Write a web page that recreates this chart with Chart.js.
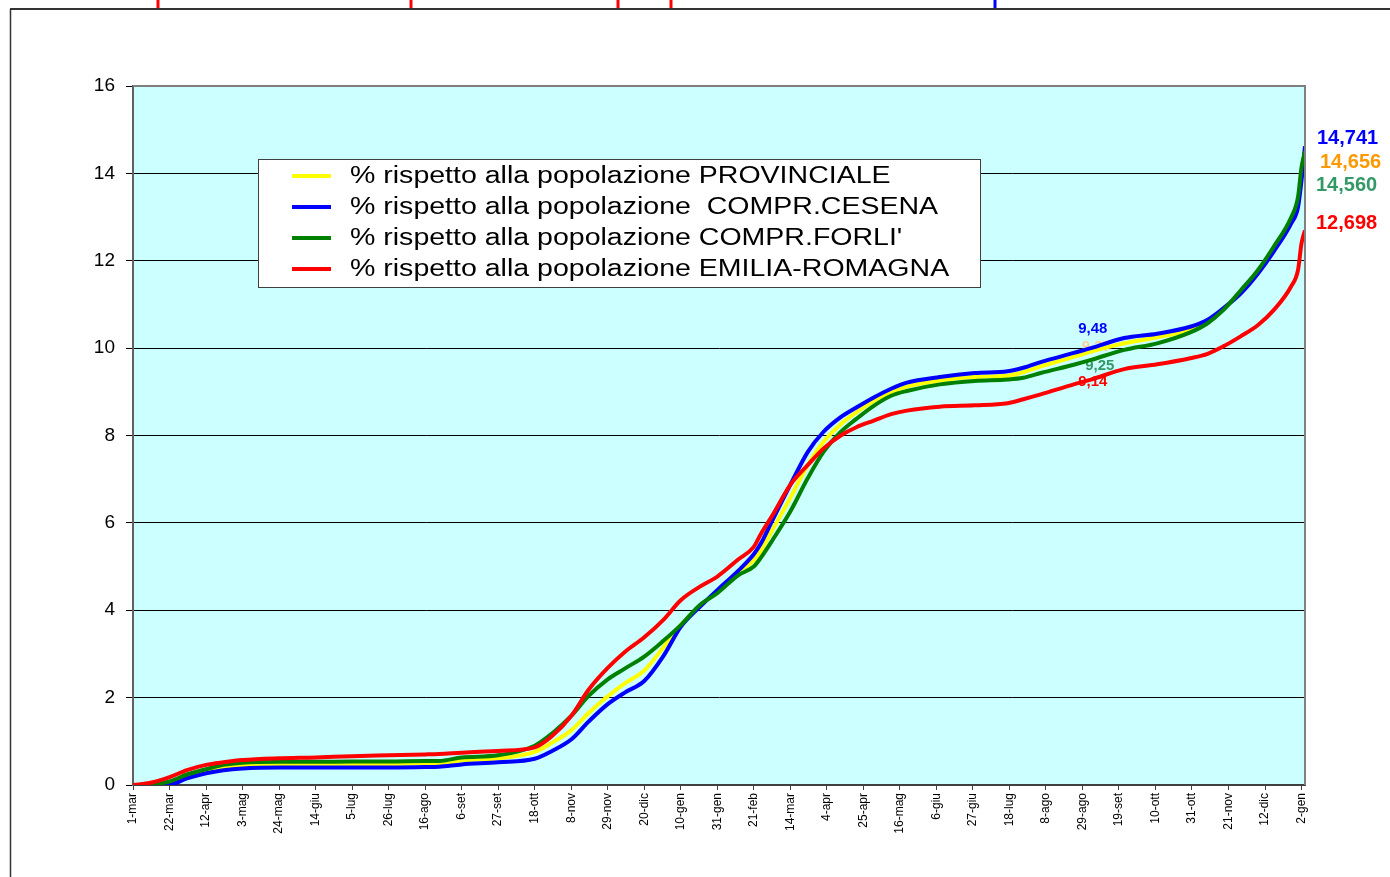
<!DOCTYPE html>
<html>
<head>
<meta charset="utf-8">
<script src="https://cdn.jsdelivr.net/npm/chart.js@4.4.1/dist/chart.umd.min.js"></script>
<style>
  html, body { margin: 0; padding: 0; background: #fff; overflow: hidden; }
  canvas { display: block; }
</style>
</head>
<body>
<canvas id="chart" width="1390" height="877"></canvas>
<script>
const tickLabels = ["1-mar", "22-mar", "12-apr", "3-mag", "24-mag", "14-giu", "5-lug", "26-lug",
  "16-ago", "6-set", "27-set", "18-ott", "8-nov", "29-nov", "20-dic", "10-gen", "31-gen", "21-feb",
  "14-mar", "4-apr", "25-apr", "16-mag", "6-giu", "27-giu", "18-lug", "8-ago", "29-ago", "19-set",
  "10-ott", "31-ott", "21-nov", "12-dic", "2-gen"];

// days since 1-mar
const days = [0, 10, 21, 31, 42, 52, 63, 84, 105, 126, 147, 168, 176, 189, 210, 231, 241, 252, 262,
  273, 283, 294, 305, 315, 326, 336, 348, 357, 361, 368, 378, 388, 397, 407, 416, 426, 436, 445, 464,
  484, 503, 512, 522, 541, 551, 570, 589, 608, 618, 627, 637, 647, 656, 666, 670, 672, 674];

const provinciale = [0, 0, 0.05, 0.19, 0.30, 0.40, 0.44, 0.47, 0.47, 0.48, 0.48, 0.49, 0.49, 0.56,
  0.61, 0.76, 0.97, 1.25, 1.65, 2.03, 2.33, 2.62, 3.15, 3.66, 4.10, 4.42, 4.86, 5.15, 5.36, 5.86,
  6.57, 7.32, 7.85, 8.26, 8.53, 8.79, 8.98, 9.12, 9.26, 9.34, 9.37, 9.45, 9.58, 9.80, 9.92, 10.11,
  10.25, 10.42, 10.61, 10.89, 11.28, 11.75, 12.27, 12.92, 13.35, 14.00, 14.56];

const cesena = [0, 0, 0.01, 0.15, 0.27, 0.34, 0.38, 0.40, 0.40, 0.40, 0.40, 0.41, 0.42, 0.47, 0.52,
  0.60, 0.78, 1.04, 1.45, 1.85, 2.12, 2.38, 2.95, 3.62, 4.08, 4.46, 4.90, 5.28, 5.52, 6.08, 6.87,
  7.62, 8.08, 8.42, 8.64, 8.87, 9.07, 9.21, 9.34, 9.43, 9.47, 9.55, 9.68, 9.89, 10.00, 10.23, 10.33,
  10.49, 10.65, 10.91, 11.25, 11.71, 12.21, 12.85, 13.23, 13.84, 14.62];

const forli = [0, 0.01, 0.08, 0.24, 0.36, 0.46, 0.51, 0.53, 0.53, 0.54, 0.54, 0.55, 0.55, 0.63, 0.68,
  0.90, 1.18, 1.58, 2.04, 2.42, 2.67, 2.94, 3.30, 3.66, 4.12, 4.39, 4.80, 5.00, 5.20, 5.62, 6.26,
  7.02, 7.62, 8.08, 8.38, 8.68, 8.91, 9.02, 9.17, 9.25, 9.28, 9.32, 9.43, 9.62, 9.73, 9.96, 10.11,
  10.36, 10.57, 10.87, 11.32, 11.79, 12.32, 12.99, 13.46, 14.14, 14.50];

const emilia = [0, 0.05, 0.18, 0.34, 0.46, 0.52, 0.57, 0.61, 0.63, 0.66, 0.68, 0.70, 0.71, 0.74, 0.78,
  0.86, 1.12, 1.58, 2.18, 2.68, 3.05, 3.38, 3.78, 4.23, 4.54, 4.77, 5.16, 5.45, 5.74, 6.19, 6.87,
  7.32, 7.70, 8.00, 8.19, 8.34, 8.49, 8.57, 8.66, 8.69, 8.74, 8.83, 8.94, 9.17, 9.28, 9.52, 9.63,
  9.77, 9.87, 10.04, 10.27, 10.53, 10.87, 11.41, 11.79, 12.40, 12.70];

const endLabels = ["14,741", "14,656", "14,560", "12,698"];
const midLabels = ["9,48", "9,37", "9,25", "9,14"];

const FONT = "Arial, 'Liberation Sans', sans-serif";

function series(label, values, color, order) {
  return {
    label: label,
    data: values.map((v, i) => ({ x: days[i], y: v })),
    borderColor: color,
    backgroundColor: color,
    borderWidth: 4,
    pointRadius: 0,
    cubicInterpolationMode: "monotone",
    order: order
  };
}

// annotation placement (value coordinates + colour)
const endLabelStyle = [
  { color: "#0000FF", v: 14.79, dx: 12 },
  { color: "#FF9900", v: 14.26, dx: 15 },
  { color: "#339966", v: 13.73, dx: 11 },
  { color: "#FF0000", v: 12.86, dx: 11 }
];
const midLabelStyle = [
  { color: "#0000FF", day: 552, v: 10.44 },
  { color: "#FFCC99", day: 554, v: 10.03 },
  { color: "#339966", day: 556, v: 9.59 },
  { color: "#FF0000", day: 552, v: 9.22 }
];

const decor = {
  id: "decor",
  beforeDraw(chart) {
    const { ctx, chartArea: a } = chart;
    ctx.save();
    ctx.fillStyle = "#fff";
    ctx.fillRect(0, 0, chart.width, chart.height);
    ctx.fillStyle = "#CCFFFF";
    ctx.fillRect(a.left, a.top, a.right - a.left, a.bottom - a.top);

    // outer frame of the sheet
    ctx.strokeStyle = "#333";
    ctx.lineWidth = 2;
    ctx.beginPath();
    ctx.moveTo(10, 9);
    ctx.lineTo(chart.width, 9);
    ctx.stroke();
    ctx.lineWidth = 1.5;
    ctx.beginPath();
    ctx.moveTo(10.5, 9);
    ctx.lineTo(10.5, chart.height);
    ctx.stroke();

    // leftover marks from the chart above
    ctx.lineWidth = 3;
    [158, 411, 618, 671].forEach(x => {
      ctx.strokeStyle = "#FF0000";
      ctx.beginPath();
      ctx.moveTo(x, 0);
      ctx.lineTo(x, 8);
      ctx.stroke();
    });
    ctx.strokeStyle = "#0000FF";
    ctx.beginPath();
    ctx.moveTo(995, 0);
    ctx.lineTo(995, 8);
    ctx.stroke();
    ctx.restore();
  },
  beforeDatasetsDraw(chart) {
    const { ctx, scales } = chart;
    ctx.save();
    ctx.font = "bold 15px " + FONT;
    ctx.textAlign = "center";
    ctx.textBaseline = "middle";
    midLabels.forEach((t, i) => {
      const s = midLabelStyle[i];
      ctx.fillStyle = s.color;
      ctx.fillText(t, scales.x.getPixelForValue(s.day), scales.y.getPixelForValue(s.v));
    });
    ctx.restore();
  },
  afterDatasetsDraw(chart) {
    const { ctx, chartArea: a, scales } = chart;
    ctx.save();

    // plot border top / right
    ctx.strokeStyle = "#808080";
    ctx.lineWidth = 2;
    ctx.beginPath();
    ctx.moveTo(a.left, a.top);
    ctx.lineTo(a.right, a.top);
    ctx.lineTo(a.right, a.bottom);
    ctx.stroke();

    // legend box
    const lx = 258, ly = 159, lw = 722, lh = 128;
    ctx.fillStyle = "#fff";
    ctx.fillRect(lx, ly, lw, lh);
    ctx.strokeStyle = "#404040";
    ctx.lineWidth = 1;
    ctx.strokeRect(lx + 0.5, ly + 0.5, lw, lh);
    chart.data.datasets.forEach((ds, i) => {
      const y = ly + 17 + i * 31;
      ctx.strokeStyle = ds.borderColor;
      ctx.lineWidth = 4;
      ctx.beginPath();
      ctx.moveTo(lx + 34, y);
      ctx.lineTo(lx + 73, y);
      ctx.stroke();
      ctx.save();
      ctx.translate(lx + 92, y + 1);
      ctx.scale(1.24, 1);
      ctx.fillStyle = "#000";
      ctx.font = "23px " + FONT;
      ctx.textBaseline = "middle";
      ctx.fillText(ds.label, 0, 0);
      ctx.restore();
    });

    // values at the end of the series
    ctx.font = "bold 20px " + FONT;
    ctx.textAlign = "left";
    ctx.textBaseline = "middle";
    endLabels.forEach((t, i) => {
      const s = endLabelStyle[i];
      ctx.fillStyle = s.color;
      ctx.fillText(t, a.right + s.dx, scales.y.getPixelForValue(s.v));
    });
    ctx.restore();
  }
};

new Chart(document.getElementById("chart"), {
  type: "line",
  data: {
    datasets: [
      series("% rispetto alla popolazione PROVINCIALE", provinciale, "#FFFF00", 4),
      series("% rispetto alla popolazione  COMPR.CESENA", cesena, "#0000FF", 3),
      series("% rispetto alla popolazione COMPR.FORLI'", forli, "#008000", 2),
      series("% rispetto alla popolazione EMILIA-ROMAGNA", emilia, "#FF0000", 1)
    ]
  },
  options: {
    responsive: false,
    animation: false,
    devicePixelRatio: 1,
    layout: { padding: { top: 86, right: 85, left: 0, bottom: 0 } },
    plugins: {
      legend: { display: false },
      tooltip: { enabled: false }
    },
    scales: {
      x: {
        type: "linear",
        min: 0,
        max: 674,
        afterBuildTicks: s => {
          s.ticks = tickLabels.map((_, i) => ({ value: i * 21 }));
        },
        afterFit: s => { s.height = 92; },
        grid: { drawOnChartArea: false, tickLength: 5, color: "#404040", lineWidth: 1 },
        border: { color: "#404040", width: 2 },
        ticks: {
          autoSkip: false,
          minRotation: 90,
          maxRotation: 90,
          padding: 3,
          color: "#000",
          font: { family: FONT, size: 12 },
          callback: v => tickLabels[Math.round(v / 21)]
        }
      },
      y: {
        min: 0,
        max: 16,
        afterFit: s => { s.width = 133; },
        grid: { color: "#000", tickLength: 7, lineWidth: 1 },
        border: { color: "#606060", width: 2 },
        ticks: {
          stepSize: 2,
          padding: 11,
          color: "#000",
          font: { family: FONT, size: 19 }
        }
      }
    }
  },
  plugins: [decor]
});
</script>
</body>
</html>
